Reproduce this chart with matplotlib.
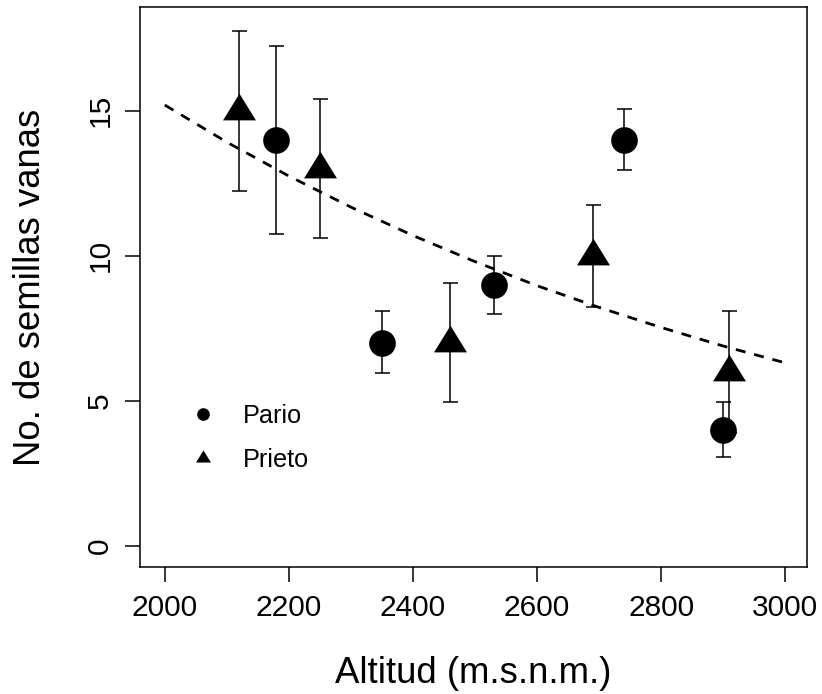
import numpy as np
import matplotlib
matplotlib.use('Agg')
import matplotlib.pyplot as plt
from matplotlib.lines import Line2D

plt.rcParams['font.family'] = ['Liberation Sans', 'DejaVu Sans']

# Pario (circulos)
pario_x = [2180, 2350, 2530, 2740, 2900]
pario_y = [14, 7, 9, 14, 4]
pario_lo = [10.75, 5.95, 8.0, 12.95, 3.05]
pario_hi = [17.25, 8.1, 10.0, 15.05, 4.95]

# Prieto (triangulos)
prieto_x = [2120, 2250, 2460, 2690, 2910]
prieto_y = [15, 13, 7, 10, 6]
prieto_lo = [12.25, 10.6, 4.95, 8.25, 3.9]
prieto_hi = [17.75, 15.4, 9.05, 11.75, 8.1]

# curva ajustada
curve_x = [2000, 2100, 2200, 2300, 2400, 2500, 2600, 2700, 2800, 2900, 3000]
curve_y = [15.2, 13.92, 12.75, 11.68, 10.7, 9.8, 8.97, 8.22, 7.53, 6.89, 6.31]

xticks = [2000, 2200, 2400, 2600, 2800, 3000]
yticks = [0, 5, 10, 15]

# triangulo con centro en el centroide
tri = [(0, 17.8), (-16.5, -8.9), (16.5, -8.9)]

fig = plt.figure(figsize=(8.22, 6.94), dpi=100)
ax = fig.add_axes([0.1703, 0.1830, 0.8114, 0.8069])

# barras de error
def err(x, y, lo, hi):
    y = np.array(y)
    yerr = [y - np.array(lo), np.array(hi) - y]
    ax.errorbar(x, y, yerr=yerr, fmt='none', ecolor='black',
                elinewidth=1.1, capsize=5.4, capthick=1.1, zorder=2)

err(prieto_x, prieto_y, prieto_lo, prieto_hi)
err(pario_x, pario_y, pario_lo, pario_hi)

ax.plot(curve_x, curve_y, color='black', lw=2.0,
        linestyle=(0, (3.6, 3.2)), zorder=3)

ax.plot(prieto_x, prieto_y, linestyle='none', marker=tri, markersize=25.6,
        color='black', markeredgewidth=0, zorder=4)
ax.plot(pario_x, pario_y, linestyle='none', marker='o', markersize=19.2,
        color='black', markeredgewidth=0, zorder=5)

ax.set_xlim(1960, 3035)
ax.set_ylim(-0.73, 18.58)
ax.set_xticks(xticks)
ax.set_yticks(yticks)
ax.tick_params(axis='both', direction='out', length=10.8, width=1.1,
               labelsize=21.5, colors='black')
ax.tick_params(axis='x', pad=8.6)
ax.tick_params(axis='y', pad=7.7, labelrotation=90)
for lab in ax.get_yticklabels():
    lab.set_va('center')
for s in ax.spines.values():
    s.set_linewidth(1.1)

ax.set_xlabel('Altitud (m.s.n.m.)', fontsize=26.3)
ax.set_ylabel('No. de semillas vanas', fontsize=26.3)
ax.xaxis.set_label_coords(0.5, -0.159)
ax.yaxis.set_label_coords(-0.138, 0.5)

handles = [Line2D([], [], linestyle='none', marker='o', markersize=9.1,
                  color='black', markeredgewidth=0),
           Line2D([], [], linestyle='none', marker=tri, markersize=11.6,
                  color='black', markeredgewidth=0)]
ax.legend(handles, ['Pario', 'Prieto'], loc='center left',
          bbox_to_anchor=(0.0756, 0.231), frameon=False, fontsize=18.2,
          handlelength=1.0, handletextpad=1.08, borderpad=0,
          borderaxespad=0, labelspacing=0.8)

fig.savefig('out.png', dpi=100)
